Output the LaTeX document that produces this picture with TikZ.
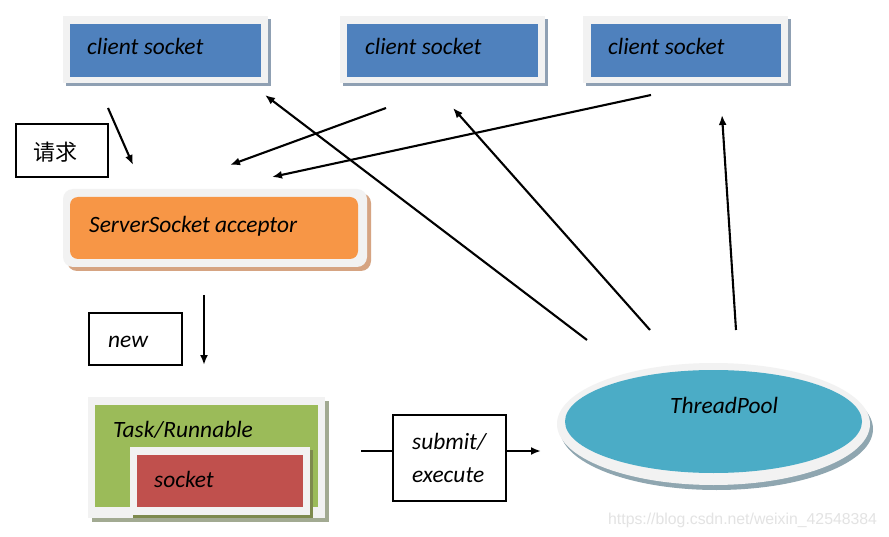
\documentclass[tikz,border=0pt]{standalone}
\usepackage{fontspec}
\setmainfont{Carlito}
\newfontfamily\cjkfont{Noto Sans CJK SC}
\newfontfamily\wmfont{Liberation Sans}
\usetikzlibrary{arrows.meta,shapes.geometric}
\definecolor{cblue}{HTML}{4F81BD}
\definecolor{cframe}{HTML}{F2F2F2}
\definecolor{cbluesh}{HTML}{8FA0B3}
\definecolor{corange}{HTML}{F79646}
\definecolor{corangesh}{HTML}{D6A482}
\definecolor{cgreen}{HTML}{9BBB59}
\definecolor{cgreensh}{HTML}{A2AA92}
\definecolor{cred}{HTML}{C0504D}
\definecolor{credsh}{HTML}{7E8A4E}
\definecolor{cpool}{HTML}{4BACC6}
\definecolor{cpoolsh}{HTML}{8FA6B0}
\definecolor{cwm}{HTML}{E3E3E3}
\tikzset{
  rbox/.style={rectangle, inner sep=0pt, draw=none},
  lbl/.style={anchor=base west, inner sep=0pt, font=\fontsize{23.4}{27}\selectfont\itshape},
  plainbox/.style={rectangle, draw=black, line width=1.5pt, inner sep=0pt},
  arr/.style={line width=2.1pt, -{Latex[length=10pt,width=8pt]}},
  ln/.style={line width=2.1pt},
}
\begin{document}
\begin{tikzpicture}[x=1pt,y=-1pt]
\useasboundingbox (0,0) rectangle (889,537);
\fill[white] (0,0) rectangle (889,537);

% client sockets
\node[rbox, fill=cbluesh, minimum width=205pt, minimum height=67pt] (c1sh) at (168.5,52.5) {};
\node[rbox, fill=cframe, minimum width=205pt, minimum height=67pt] (c1f) at (165.5,49.5) {};
\node[rbox, fill=cblue, minimum width=191pt, minimum height=53pt] (c1) at (165.5,50.5) {};
\node[lbl] (t1) at (87,55) {client socket};

\node[rbox, fill=cbluesh, minimum width=205pt, minimum height=67pt] (c2sh) at (445.5,52.5) {};
\node[rbox, fill=cframe, minimum width=205pt, minimum height=67pt] (c2f) at (442.5,49.5) {};
\node[rbox, fill=cblue, minimum width=191pt, minimum height=53pt] (c2) at (442.5,50.5) {};
\node[lbl] (t2) at (365,55) {client socket};

\node[rbox, fill=cbluesh, minimum width=205pt, minimum height=67pt] (c3sh) at (688.5,52.5) {};
\node[rbox, fill=cframe, minimum width=205pt, minimum height=67pt] (c3f) at (685.5,49.5) {};
\node[rbox, fill=cblue, minimum width=190pt, minimum height=53pt] (c3) at (686,50.5) {};
\node[lbl] (t3) at (608,55) {client socket};

% request label
\node[plainbox, minimum width=92pt, minimum height=53pt] (req) at (62,150.5) {};
\node[anchor=base west, inner sep=0pt, font=\cjkfont\fontsize{22}{25}\selectfont] (reqt) at (33,161) {请求};

% ServerSocket acceptor
\node[rbox, fill=corangesh, rounded corners=10pt, minimum width=304pt, minimum height=78pt] (sssh) at (219,232) {};
\node[rbox, fill=cframe, rounded corners=10pt, minimum width=304pt, minimum height=78pt] (ssf) at (215,228) {};
\node[rbox, fill=corange, rounded corners=8pt, minimum width=288pt, minimum height=62pt] (ss) at (214,228) {};
\node[lbl] (sst) at (89,233) {ServerSocket acceptor};

% new label
\node[plainbox, minimum width=93pt, minimum height=52pt] (newb) at (135.5,339) {};
\node[lbl] (newt) at (108,348) {new};

% Task / Runnable
\node[rbox, fill=cgreensh, minimum width=237pt, minimum height=121pt] (tasksh) at (210.5,461.5) {};
\node[rbox, fill=cframe, minimum width=237pt, minimum height=121pt] (taskf) at (206.5,457.5) {};
\node[rbox, fill=cgreen, minimum width=223pt, minimum height=102pt] (task) at (206.5,456) {};
\node[lbl] (taskt) at (113,437) {Task/Runnable};
\node[rbox, fill=credsh, minimum width=180pt, minimum height=68pt] (socksh) at (223,484) {};
\node[rbox, fill=cframe, minimum width=180pt, minimum height=68pt] (sockf) at (220,481) {};
\node[rbox, fill=cred, minimum width=166pt, minimum height=52pt] (sock) at (220,481) {};
\node[lbl] (sockt) at (154,487) {socket};

% submit / execute
\node[plainbox, minimum width=113pt, minimum height=86pt] (sub) at (449.5,458) {};
\node[lbl] (subt1) at (412,449) {submit/};
\node[lbl] (subt2) at (412,482) {execute};

% ThreadPool
\node[ellipse, inner sep=0pt, fill=cpoolsh, minimum width=313pt, minimum height=122pt] (poolsh) at (716.5,429) {};
\node[ellipse, inner sep=0pt, fill=cframe, minimum width=313pt, minimum height=122pt] (poolf) at (713.5,424) {};
\node[ellipse, inner sep=0pt, fill=cpool, minimum width=297pt, minimum height=103pt] (pool) at (713.5,421.5) {};
\node[lbl] (poolt) at (670,413) {ThreadPool};

% watermark
\node[anchor=base west, inner sep=0pt, text=cwm, font=\wmfont\fontsize{15.8}{18}\selectfont] (wm) at (608,524) {https://blog.csdn.net/weixin\_42548384};

% connector end points
\coordinate (a1s) at (108,108); \coordinate (a1e) at (133,165);
\coordinate (a2s) at (386,108); \coordinate (a2e) at (230,165);
\coordinate (a3s) at (651,95);  \coordinate (a3e) at (272,177);
\coordinate (a4s) at (204,295); \coordinate (a4e) at (204,365);
\coordinate (p1s) at (587,340); \coordinate (p1e) at (265,95);
\coordinate (p2s) at (650,330); \coordinate (p2e) at (453,108);
\coordinate (p3s) at (736,330); \coordinate (p3e) at (722,115);
\coordinate (s1s) at (361,451); \coordinate (s2e) at (541,451);

\draw[arr] (a1s) -- (a1e);
\draw[arr] (a2s) -- (a2e);
\draw[arr] (a3s) -- (a3e);
\draw[arr] (a4s) -- (a4e);
\draw[arr] (p1s) -- (p1e);
\draw[arr] (p2s) -- (p2e);
\draw[arr] (p3s) -- (p3e);
\draw[ln] (s1s) -- (sub.west |- s1s);
\draw[arr] (sub.east |- s2e) -- (s2e);
\end{tikzpicture}
\end{document}
